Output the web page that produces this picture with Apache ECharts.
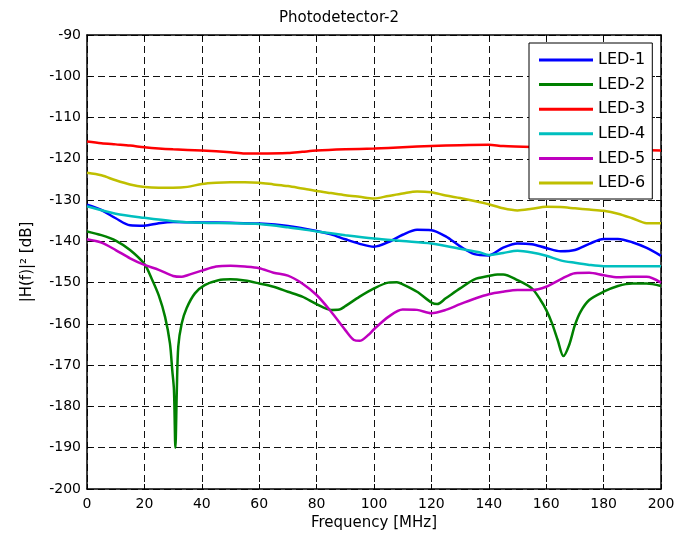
<!DOCTYPE html>
<html>
<head>
<meta charset="utf-8">
<script src="https://cdn.jsdelivr.net/npm/echarts@6/dist/echarts.min.js"></script>
<style>
html,body{margin:0;padding:0;background:#fff;}
#chart{width:678px;height:539px;}
</style>
</head>
<body>
<div id="chart"></div>
<script>
var titleText = 'Photodetector-2';
var xName = 'Frequency [MHz]';
var yName = '|H(f)|\u00B2 [dB]';
var seriesNames = ['LED-1','LED-2','LED-3','LED-4','LED-5','LED-6'];
var seriesColors = ['#0000FF','#008000','#FF0000','#00BFBF','#BF00BF','#BFBF00'];

var led1F = [0,5,10,15,20,25,30,40,50,60,70,80,85,90,95,100,105,110,115,120,125,130,135,140,145,150,155,160,165,170,175,180,185,190,195,200];
var led1V = [-131.1,-132.4,-134.4,-136.1,-136.2,-135.6,-135.3,-135.4,-135.5,-135.7,-136.3,-137.5,-138.3,-139.5,-140.6,-141.3,-140.2,-138.4,-137.2,-137.3,-138.8,-141.2,-143.1,-143.4,-141.5,-140.5,-140.7,-141.6,-142.4,-142.1,-140.6,-139.4,-139.4,-140.2,-141.6,-143.5];

var led2F = [0,5,10,15,20,22.5,25,27.2,28.9,29.7,30.3,30.8,31.3,31.8,33,34.7,37.6,41,45.8,50,55,60,65,70,75,80,85,88,90,95,100,105,108,110,115,120,122,125,130,135,140,143,145,150,155,158,160,162,164,166,168,170,172,175,180,185,190,195,200];
var led2V = [-137.6,-138.5,-139.8,-142.1,-145.5,-149.0,-153.1,-158.3,-164.7,-171.2,-176.0,-190.0,-176.0,-165.5,-159.9,-156.2,-152.6,-150.6,-149.4,-149.2,-149.5,-150.2,-151.0,-152.2,-153.4,-155.2,-156.6,-156.5,-155.7,-153.4,-151.4,-150.0,-149.9,-150.4,-152.2,-154.8,-155.2,-153.8,-151.4,-149.2,-148.4,-148.0,-148.0,-149.4,-151.4,-154.2,-156.6,-159.8,-163.9,-167.8,-165.1,-160.3,-157.0,-154.2,-152.2,-150.8,-150.2,-150.2,-150.8];

var led3F = [0,5,10,15,20,25,30,40,50,55,60,70,75,80,90,100,110,120,130,140,145,160,180,200];
var led3V = [-115.8,-116.2,-116.5,-116.8,-117.2,-117.5,-117.7,-118.0,-118.4,-118.7,-118.7,-118.6,-118.3,-118.0,-117.7,-117.5,-117.2,-116.9,-116.7,-116.6,-116.9,-117.2,-117.6,-118.0];

var led4F = [0,10,20,30,40,50,60,70,80,90,100,110,120,130,137,140,145,150,155,160,165,170,175,180,190,200];
var led4V = [-131.5,-133.3,-134.3,-135.1,-135.5,-135.6,-135.8,-136.6,-137.6,-138.5,-139.3,-139.9,-140.5,-141.8,-142.7,-143.3,-142.8,-142.3,-142.7,-143.5,-144.6,-145.2,-145.7,-146.0,-146.0,-146.0];

var led5F = [0,5,10,15,20,25,30,33,35,40,45,50,55,60,65,70,75,80,85,90,93,95,98,100,105,110,115,120,125,130,135,140,145,150,155,160,165,170,175,180,185,190,195,200];
var led5V = [-139.5,-140.3,-142.1,-144.1,-145.7,-146.9,-148.4,-148.6,-148.2,-147.1,-146.1,-145.9,-146.1,-146.5,-147.6,-148.3,-150.2,-153.0,-157.0,-161.5,-163.9,-164.1,-162.7,-161.3,-158.3,-156.5,-156.6,-157.4,-156.6,-155.2,-153.9,-152.8,-152.2,-151.8,-151.8,-151.0,-149.2,-147.7,-147.6,-148.2,-148.7,-148.6,-148.6,-150.0];

var led6F = [0,5,10,15,20,25,30,35,40,45,50,55,60,65,70,75,80,85,90,95,100,105,110,115,120,125,130,135,140,145,150,155,160,165,170,175,180,185,190,195,200];
var led6V = [-123.4,-124.0,-125.2,-126.2,-126.8,-127.0,-127.0,-126.8,-126.1,-125.8,-125.7,-125.7,-125.8,-126.2,-126.6,-127.2,-127.8,-128.3,-128.8,-129.2,-129.6,-129.0,-128.4,-127.9,-128.1,-128.9,-129.5,-130.2,-131.0,-132.0,-132.5,-132.1,-131.6,-131.7,-132.0,-132.3,-132.6,-133.3,-134.4,-135.6,-135.6];

var xMin = 0, xMax = 200, xStep = 20;
var yMin = -200, yMax = -90, yStep = 10;

function pairs(f, v) {
  var out = [];
  for (var i = 0; i < f.length; i++) out.push([f[i], v[i]]);
  return out;
}
var allF = [led1F, led2F, led3F, led4F, led5F, led6F];
var allV = [led1V, led2V, led3V, led4V, led5V, led6V];

var FONT = 'DejaVu Sans';
var series = seriesNames.map(function (name, i) {
  return {
    name: name,
    type: 'line',
    xAxisIndex: 0,
    yAxisIndex: 0,
    data: pairs(allF[i], allV[i]),
    symbol: 'none',
    smooth: 0.3,
    lineStyle: { color: seriesColors[i], width: 2.5 },
    itemStyle: { color: seriesColors[i] },
    z: 3
  };
});

var chart = echarts.init(document.getElementById('chart'), null, { renderer: 'canvas' });
var gridLine = { show: true, lineStyle: { color: '#111', width: 1, type: [7, 4] } };
var option = {
  animation: false,
  backgroundColor: '#fff',
  title: {
    text: titleText, left: 'center', top: 6,
    textStyle: { fontFamily: FONT, fontSize: 15, fontWeight: 'normal', color: '#000' }
  },
  grid: { left: 87, top: 35, right: 17, bottom: 50, containLabel: false },
  legend: {
    data: seriesNames.map(function (n) { return { name: n, icon: 'rect' }; }),
    orient: 'vertical',
    left: 529, top: 43,
    backgroundColor: '#fff',
    borderColor: '#000', borderWidth: 1,
    padding: [9, 7, 8, 10],
    itemWidth: 54, itemHeight: 3, itemGap: 8.6,
    textStyle: { fontFamily: FONT, fontSize: 16, color: '#000', lineHeight: 14, height: 14 },
    z: 10
  },
  xAxis: [{
    type: 'value', min: xMin, max: xMax, interval: xStep,
    name: xName, nameLocation: 'middle', nameGap: 27,
    nameTextStyle: { fontFamily: FONT, fontSize: 15, color: '#000' },
    axisLine: { show: true, onZero: false, lineStyle: { color: '#000', width: 1.5 } },
    axisTick: { show: true, inside: true, length: 5, lineStyle: { color: '#000' } },
    axisLabel: { fontFamily: FONT, fontSize: 14, color: '#000', margin: 8 },
    splitLine: gridLine
  }, {
    type: 'value', position: 'top', min: xMin, max: xMax, interval: xStep,
    axisLine: { show: true, onZero: false, lineStyle: { color: '#000', width: 1.5 } },
    axisTick: { show: true, inside: true, length: 5, lineStyle: { color: '#000' } },
    axisLabel: { show: false }, splitLine: { show: false }
  }],
  yAxis: [{
    type: 'value', min: yMin, max: yMax, interval: yStep,
    name: yName, nameLocation: 'middle', nameGap: 52, nameRotate: 90,
    nameTextStyle: { fontFamily: FONT, fontSize: 15, color: '#000' },
    axisLine: { show: true, onZero: false, lineStyle: { color: '#000', width: 1.5 } },
    axisTick: { show: true, inside: true, length: 5, lineStyle: { color: '#000' } },
    axisLabel: { fontFamily: FONT, fontSize: 14, color: '#000', margin: 6 },
    splitLine: gridLine
  }, {
    type: 'value', position: 'right', min: yMin, max: yMax, interval: yStep,
    axisLine: { show: true, onZero: false, lineStyle: { color: '#000', width: 1.5 } },
    axisTick: { show: true, inside: true, length: 5, lineStyle: { color: '#000' } },
    axisLabel: { show: false }, splitLine: { show: false }
  }],
  series: series
};
chart.setOption(option);
</script>
</body>
</html>
